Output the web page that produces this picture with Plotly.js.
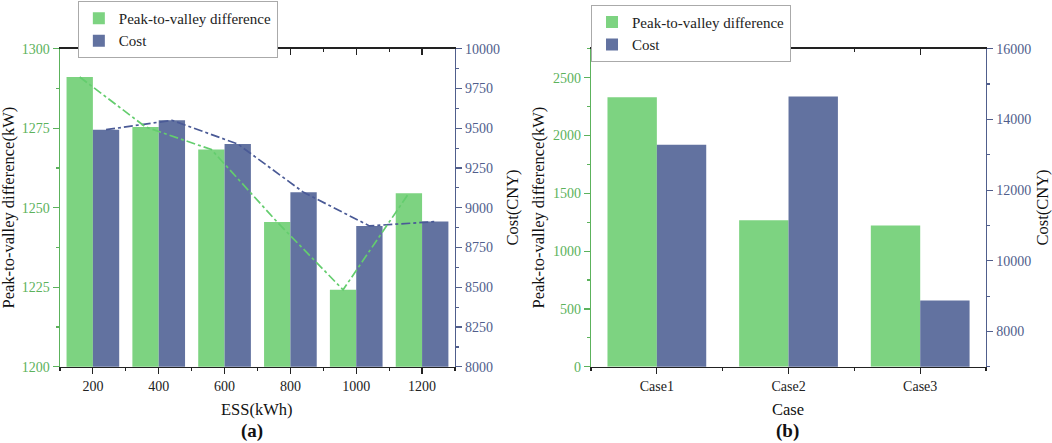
<!DOCTYPE html>
<html>
<head>
<meta charset="utf-8">
<script src="https://cdn.plot.ly/plotly-3.0.1.min.js"></script>
<style>
  html, body { margin: 0; padding: 0; background: #fff; }
  #myDiv { width: 1052px; height: 443px; }
</style>
</head>
<body>
<div id="myDiv"></div>
<script>
// panel (a): ESS capacity sweep
var ess = [200, 400, 600, 800, 1000, 1200];
var pvdA = [1291.1, 1275.4, 1268.3, 1245.5, 1224.2, 1254.6];
var costA = [9491, 9550, 9401, 9097, 8886, 8913];

// panel (b): case comparison
var cases = ['Case1', 'Case2', 'Case3'];
var pvdB = [2331, 1268, 1222];
var costB = [13283, 14651, 8877];

var GREEN = 'rgb(125, 211, 129)';
var BLUE = 'rgb(98, 114, 160)';
var GREEN_AX = 'rgb(92, 178, 92)';
var BLUE_AX = 'rgb(80, 94, 140)';
var FONT = '"Liberation Serif", serif';

var caseIdx = cases.map(function (c, i) { return i; });

var data = [
  // (a) bars
  {type: 'bar', x: ess, y: pvdA, width: 80, offset: -80, xaxis: 'x', yaxis: 'y',
   marker: {color: GREEN}, name: 'Peak-to-valley difference', legend: 'legend'},
  {type: 'bar', x: ess, y: costA, width: 80, offset: 0, xaxis: 'x', yaxis: 'y2',
   marker: {color: BLUE}, name: 'Cost', legend: 'legend'},
  // (a) dash-dot lines through the bar tops
  {type: 'scatter', mode: 'lines', x: ess.map(function (v) { return v - 40; }), y: pvdA,
   xaxis: 'x', yaxis: 'y5', showlegend: false,
   line: {color: 'rgb(100, 205, 110)', width: 1.7, dash: 'dashdot'}},
  {type: 'scatter', mode: 'lines', x: ess.map(function (v) { return v + 40; }), y: costA,
   xaxis: 'x', yaxis: 'y2', showlegend: false,
   line: {color: 'rgb(74, 90, 150)', width: 1.7, dash: 'dashdot'}},
  // (b) bars
  {type: 'bar', x: caseIdx, y: pvdB, width: 0.375, offset: -0.375, xaxis: 'x2', yaxis: 'y3',
   marker: {color: GREEN}, name: 'Peak-to-valley difference', legend: 'legend2'},
  {type: 'bar', x: caseIdx, y: costB, width: 0.375, offset: 0, xaxis: 'x2', yaxis: 'y4',
   marker: {color: BLUE}, name: 'Cost', legend: 'legend2'},
  // empty traces so the top frame axes are drawn
  {type: 'scatter', x: [], y: [], xaxis: 'x3', yaxis: 'y', showlegend: false},
  {type: 'scatter', x: [], y: [], xaxis: 'x4', yaxis: 'y3', showlegend: false}
];

var domA = [0.057, 0.4325];
var domB = [0.5618, 0.9373];
var domY = [0.172, 0.890];

function bottomAxis(dom, range, extra) {
  var ax = {
    domain: dom, range: range, showgrid: false, zeroline: false,
    showline: true, linecolor: '#222', linewidth: 1.3,
    ticks: 'outside', ticklen: 6, tickwidth: 1.2, tickcolor: '#222',
    tickfont: {size: 14, color: '#222', family: FONT}
  };
  for (var k in extra) ax[k] = extra[k];
  return ax;
}

function sideAxis(col, range, side, extra) {
  var ax = {
    domain: domY, range: range, side: side, showgrid: false, zeroline: false,
    showline: true, linecolor: col, linewidth: 1.3,
    ticks: 'outside', ticklen: 6, tickwidth: 1.2, tickcolor: col,
    tickformat: 'd',
    tickfont: {size: 14, color: col, family: FONT}
  };
  for (var k in extra) ax[k] = extra[k];
  return ax;
}

function topAxis(over, anchor, range, extra) {
  var ax = {
    overlaying: over, anchor: anchor, side: 'top', range: range,
    showgrid: false, zeroline: false, showticklabels: false,
    showline: true, linecolor: '#222', linewidth: 1.3,
    ticks: 'inside', ticklen: 6, tickwidth: 1.2, tickcolor: '#222'
  };
  for (var k in extra) ax[k] = extra[k];
  return ax;
}

function label(text, px, py, angle, size) {
  return {text: text, xref: 'paper', yref: 'paper', x: px / 1052, y: 1 - py / 443,
    xanchor: 'center', yanchor: 'middle', showarrow: false, textangle: angle || 0,
    font: {size: size || 16.5, family: FONT, color: '#111'}};
}

var layout = {
  width: 1052, height: 443,
  margin: {l: 0, r: 0, t: 0, b: 0},
  paper_bgcolor: '#fff', plot_bgcolor: 'rgba(0,0,0,0)',
  font: {family: FONT, color: '#222'},
  barmode: 'overlay',
  xaxis: bottomAxis(domA, [100, 1300], {
    anchor: 'y', tick0: 0, dtick: 200,
    minor: {dtick: 100, ticks: 'outside', ticklen: 3, tickcolor: '#222'}
  }),
  yaxis: sideAxis(GREEN_AX, [1200, 1300], 'left', {
    anchor: 'x', tick0: 1200, dtick: 25,
    minor: {dtick: 12.5, ticks: 'outside', ticklen: 3, tickcolor: GREEN_AX}
  }),
  yaxis2: sideAxis(BLUE_AX, [8000, 10000], 'right', {
    anchor: 'x', overlaying: 'y', tick0: 8000, dtick: 250,
    minor: {dtick: 125, ticks: 'outside', ticklen: 3, tickcolor: BLUE_AX}
  }),
  yaxis5: {overlaying: 'y', anchor: 'x', range: [1200, 1300], visible: false},
  xaxis3: topAxis('x', 'y', [100, 1300], {
    tick0: 0, dtick: 200,
    minor: {dtick: 100, ticks: 'inside', ticklen: 3, tickcolor: '#222'}
  }),

  xaxis2: bottomAxis(domB, [-0.5, 2.5], {
    anchor: 'y3', tickvals: caseIdx, ticktext: cases,
    minor: {tick0: -0.5, dtick: 1, ticks: 'outside', ticklen: 3, tickcolor: '#222'}
  }),
  yaxis3: sideAxis(GREEN_AX, [0, 2750], 'left', {
    anchor: 'x2', tick0: 0, dtick: 500,
    minor: {dtick: 250, ticks: 'outside', ticklen: 3, tickcolor: GREEN_AX}
  }),
  yaxis4: sideAxis(BLUE_AX, [7000, 16000], 'right', {
    anchor: 'x2', overlaying: 'y3', tick0: 0, dtick: 2000,
    minor: {dtick: 1000, ticks: 'outside', ticklen: 3, tickcolor: BLUE_AX}
  }),
  xaxis4: topAxis('x2', 'y3', [-0.5, 2.5], {
    tickvals: caseIdx,
    minor: {tick0: -0.5, dtick: 1, ticks: 'inside', ticklen: 3, tickcolor: '#222'}
  }),

  legend: {
    x: 0.074, y: 0.998, xanchor: 'left', yanchor: 'top',
    bgcolor: '#fff', bordercolor: '#aaa', borderwidth: 1,
    font: {size: 15, family: FONT, color: '#222'}, tracegroupgap: 0
  },
  legend2: {
    x: 0.5618, y: 0.989, xanchor: 'left', yanchor: 'top',
    bgcolor: '#fff', bordercolor: '#aaa', borderwidth: 1,
    font: {size: 15, family: FONT, color: '#222'}, tracegroupgap: 0
  },

  annotations: [
    label('Peak-to-valley difference(kW)', 8, 207.5, -90),
    label('Cost(CNY)', 512, 207.5, -90),
    label('ESS(kWh)', 257, 409, 0),
    label('<b>(a)</b>', 252, 431, 0, 19),
    label('Peak-to-valley difference(kW)', 538, 207.5, -90),
    label('Cost(CNY)', 1042, 207.5, -90),
    label('Case', 788, 409, 0),
    label('<b>(b)</b>', 787, 431, 0, 19)
  ]
};

Plotly.newPlot('myDiv', data, layout, {displayModeBar: false, staticPlot: true});
</script>
</body>
</html>
